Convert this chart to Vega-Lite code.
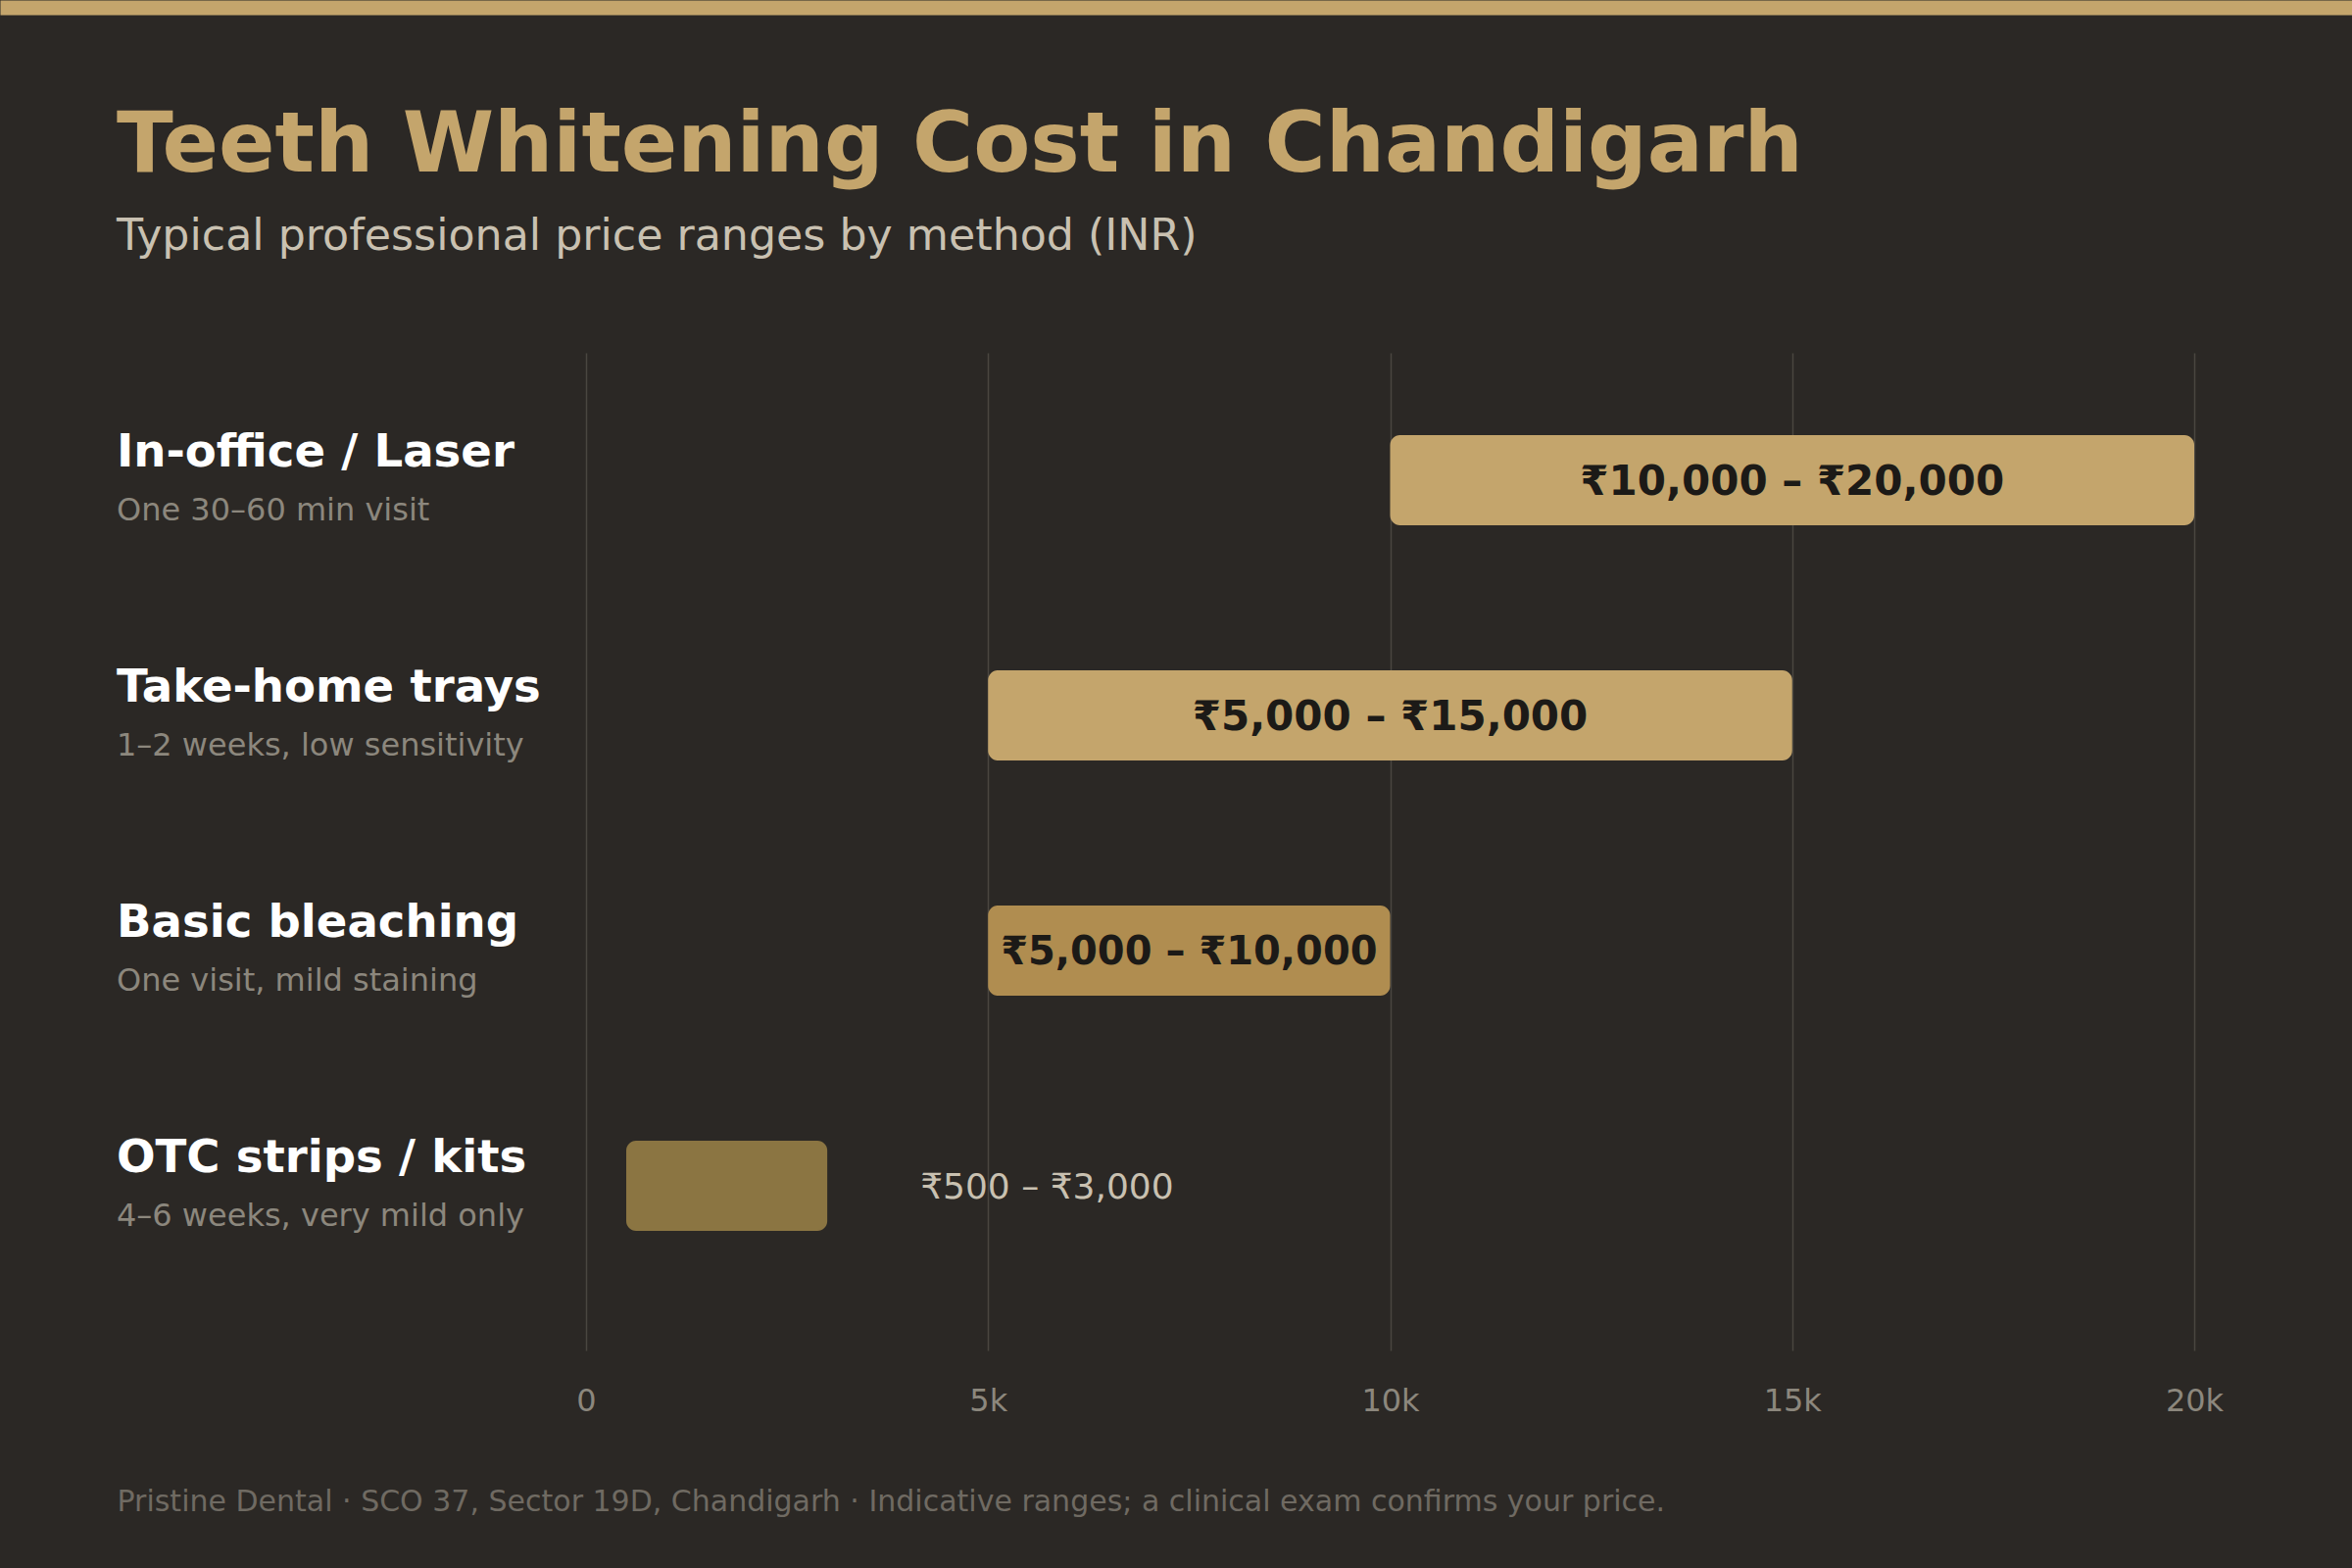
{
  "$schema": "https://vega.github.io/schema/vega-lite/v6.json",
  "width": 2400,
  "height": 1018,
  "autosize": {"type": "none"},
  "padding": {"left": 0, "top": 360, "right": 0, "bottom": 222},
  "background": "#2b2825",
  "title": {
    "text": "Teeth Whitening Cost in Chandigarh",
    "subtitle": "Typical professional price ranges by method (INR)",
    "anchor": "start",
    "frame": "group",
    "dx": 119,
    "offset": -258,
    "font": "DejaVu Sans",
    "fontSize": 84.7,
    "fontWeight": "bold",
    "color": "#c4a56c",
    "subtitleFont": "DejaVu Sans",
    "subtitleFontSize": 44.3,
    "subtitleColor": "#c9c1b1",
    "subtitlePadding": 28
  },
  "data": {
    "values": [
      {"method": "In-office / Laser", "note": "One 30–60 min visit", "lo": 10000, "hi": 20000, "range": "₹10,000 – ₹20,000"},
      {"method": "Take-home trays", "note": "1–2 weeks, low sensitivity", "lo": 5000, "hi": 15000, "range": "₹5,000 – ₹15,000"},
      {"method": "Basic bleaching", "note": "One visit, mild staining", "lo": 5000, "hi": 10000, "range": "₹5,000 – ₹10,000"},
      {"method": "OTC strips / kits", "note": "4–6 weeks, very mild only", "lo": 500, "hi": 3000, "range": "₹500 – ₹3,000"}
    ]
  },
  "layer": [
    {
      "mark": {"type": "bar", "cornerRadius": 10},
      "encoding": {
        "y": {
          "field": "method",
          "type": "nominal",
          "sort": null,
          "axis": null,
          "scale": {"paddingInner": 0.6167, "paddingOuter": 0.429, "align": 0.408}
        },
        "x": {
          "field": "lo",
          "type": "quantitative",
          "scale": {"domain": [-7288, 21962], "nice": false, "zero": false},
          "axis": {
            "orient": "bottom",
            "values": [0, 5000, 10000, 15000, 20000],
            "labelExpr": "datum.value == 0 ? '0' : (datum.value / 1000) + 'k'",
            "grid": true,
            "gridColor": "#4a4640",
            "gridWidth": 1.5,
            "domain": false,
            "ticks": false,
            "labelFont": "DejaVu Sans",
            "labelFontSize": 32,
            "labelColor": "#8c877d",
            "labelPadding": 36,
            "title": "Pristine Dental · SCO 37, Sector 19D, Chandigarh · Indicative ranges; a clinical exam confirms your price.",
            "titleFont": "DejaVu Sans",
            "titleFontSize": 30,
            "titleFontWeight": "normal",
            "titleColor": "#6f6a62",
            "titleAnchor": "start",
            "titleAlign": "left",
            "titleBaseline": "alphabetic",
            "titleX": 119,
            "titleY": 163
          }
        },
        "x2": {"field": "hi"},
        "color": {
          "field": "method",
          "type": "nominal",
          "legend": null,
          "scale": {
            "domain": ["In-office / Laser", "Take-home trays", "Basic bleaching", "OTC strips / kits"],
            "range": ["#c4a56c", "#c4a56c", "#b08d50", "#8b7542"]
          }
        }
      }
    },
    {
      "transform": [
        {"filter": "datum.hi - datum.lo >= 4000"},
        {"fold": ["lo", "hi"], "as": ["end", "value"]},
        {"aggregate": [{"op": "mean", "field": "value", "as": "mid"}], "groupby": ["method", "range", "lo", "hi"]}
      ],
      "mark": {"type": "text", "font": "DejaVu Sans", "fontWeight": "bold", "color": "#1c1a17", "align": "center", "baseline": "middle", "dy": 2},
      "encoding": {
        "y": {"field": "method", "type": "nominal", "sort": null},
        "x": {
          "field": "mid",
          "type": "quantitative",
          "axis": {
            "orient": "top",
            "offset": 352.5,
            "domain": true,
            "domainColor": "#c4a56c",
            "domainWidth": 15,
            "labels": false,
            "ticks": false,
            "grid": false,
            "title": null
          }
        },
        "size": {"condition": {"test": "datum.hi - datum.lo < 6000", "value": 40}, "value": 42},
        "text": {"field": "range"}
      }
    },
    {
      "transform": [{"filter": "datum.hi - datum.lo < 4000"}],
      "mark": {"type": "text", "font": "DejaVu Sans", "fontSize": 36, "color": "#c9c1b1", "align": "left", "baseline": "middle", "dx": 95, "dy": 2},
      "encoding": {
        "y": {"field": "method", "type": "nominal", "sort": null},
        "x": {"field": "hi", "type": "quantitative", "axis": null},
        "text": {"field": "range"}
      }
    },
    {
      "mark": {"type": "text", "font": "DejaVu Sans", "fontSize": 46.6, "fontWeight": "bold", "color": "#ffffff", "align": "left", "baseline": "alphabetic", "dy": -14},
      "encoding": {
        "y": {"field": "method", "type": "nominal", "sort": null},
        "x": {"datum": -5838, "type": "quantitative", "axis": null},
        "text": {"field": "method"}
      }
    },
    {
      "mark": {"type": "text", "font": "DejaVu Sans", "fontSize": 32, "color": "#8c877d", "align": "left", "baseline": "alphabetic", "dy": 41},
      "encoding": {
        "y": {"field": "method", "type": "nominal", "sort": null},
        "x": {"datum": -5838, "type": "quantitative", "axis": null},
        "text": {"field": "note"}
      }
    }
  ],
  "resolve": {"axis": {"x": "independent"}},
  "config": {
    "view": {"stroke": null},
    "font": "DejaVu Sans"
  }
}
